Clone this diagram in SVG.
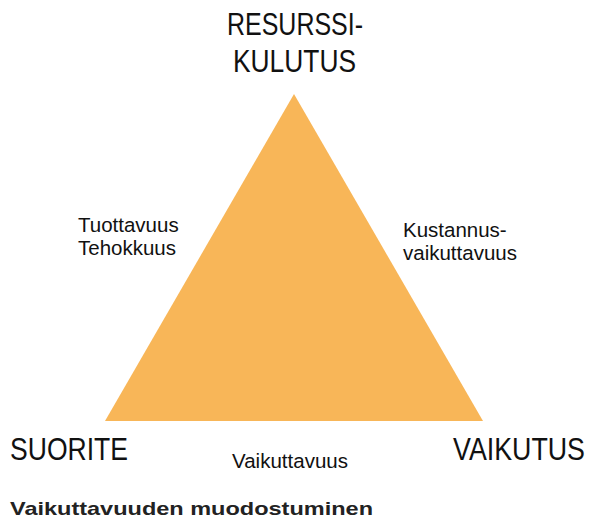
<svg xmlns="http://www.w3.org/2000/svg" width="597" height="522" viewBox="0 0 597 522">
  <style>
    .head { font-family: "Liberation Sans", Arial, sans-serif; font-size: 26.5px; fill: #111; }
    .lbl { font-family: "Liberation Sans", Arial, sans-serif; font-size: 20.5px; fill: #111; }
    .title { font-family: "Liberation Sans", Arial, sans-serif; font-size: 19px; font-weight: bold; fill: #222; }
  </style>
  <rect width="597" height="522" fill="#fff"/>
  <g id="triangle">
    <polygon points="294,94 105,421 483,421" fill="#F8B658"/>
  </g>
  <!-- corner headings: slightly tall lettering -->
  <g id="resurssikulutus">
    <text class="head" transform="translate(227,35) scale(1,1.15)" textLength="136" lengthAdjust="spacingAndGlyphs">RESURSSI-</text>
    <text class="head" transform="translate(233,72) scale(1,1.15)" textLength="123" lengthAdjust="spacingAndGlyphs">KULUTUS</text>
  </g>
  <g id="suorite">
    <text class="head" transform="translate(10,460) scale(1,1.15)" textLength="118" lengthAdjust="spacingAndGlyphs">SUORITE</text>
  </g>
  <g id="vaikutus">
    <text class="head" transform="translate(453,460) scale(1,1.15)" textLength="132" lengthAdjust="spacingAndGlyphs">VAIKUTUS</text>
  </g>
  <g id="edge-left">
    <text class="lbl" x="78" y="232">Tuottavuus</text>
    <text class="lbl" x="78" y="255">Tehokkuus</text>
  </g>
  <g id="edge-right">
    <text class="lbl" x="403" y="237">Kustannus-</text>
    <text class="lbl" x="403" y="260">vaikuttavuus</text>
  </g>
  <g id="edge-bottom">
    <text class="lbl" x="232" y="468" textLength="116" lengthAdjust="spacingAndGlyphs">Vaikuttavuus</text>
  </g>
  <g id="caption">
    <text class="title" x="10" y="515" textLength="363" lengthAdjust="spacingAndGlyphs">Vaikuttavuuden muodostuminen</text>
  </g>
</svg>
